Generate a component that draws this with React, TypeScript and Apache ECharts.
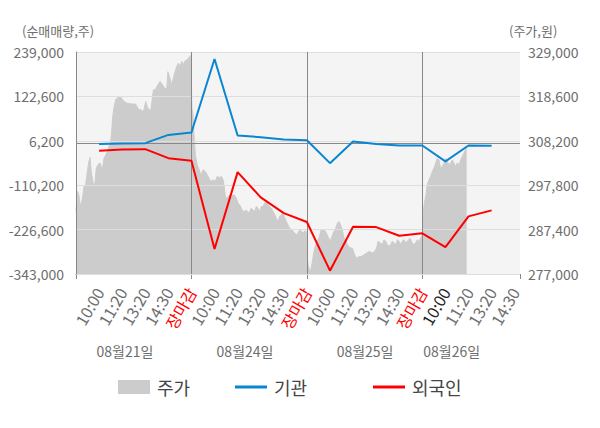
import React, { useEffect, useRef } from "react";
import * as echarts from "echarts";

// ---------- data ----------
const timeLabels = [
  "10:00", "11:20", "13:20", "14:30", "장마감",
  "10:00", "11:20", "13:20", "14:30", "장마감",
  "10:00", "11:20", "13:20", "14:30", "장마감",
  "10:00", "11:20", "13:20", "14:30",
];
const closeLabel = "장마감";
const currentLabelIndex = 15;

const dateLabels = ["08월21일", "08월24일", "08월25일", "08월26일"];
const datePositions = [2.12, 7.32, 12.52, 16.27];

const leftAxisName = "(순매매량,주)";
const rightAxisName = "(주가,원)";
const leftTicks = [-343000, -226600, -110200, 6200, 122600, 239000];
const rightTicks = [277000, 287400, 297800, 308200, 318600, 329000];

const flowPositions = [1, 2, 3, 4, 5, 6, 7, 8, 9, 10, 11, 12, 13, 14, 15, 16, 17, 18];
const instValues = [
  -2000, -1000, 0, 21700, 28000, 220700, 20100, 15700, 9700, 7800,
  -52400, 4400, -1900, -6000, -6000, -47900, -6000, -7000,
];
const foreignValues = [
  -20200, -16500, -15700, -39300, -46400, -277500, -75900, -142200, -183300, -206800,
  -334300, -219200, -220000, -242700, -236400, -272300, -191900, -176200,
];

const dayBoundaries = [5, 10, 15];
const xMax = 19.23;

const priceDay1: [number, number][] = [
  [0, 291700], [0.06, 296400], [0.12, 295600], [0.17, 293600], [0.23, 293200],
  [0.3, 295600], [0.35, 297500], [0.42, 297900], [0.49, 301000], [0.56, 303400],
  [0.61, 304300], [0.66, 301000], [0.74, 298300], [0.81, 297900], [0.88, 301800],
  [0.95, 302600], [1.04, 303000], [1.14, 301400], [1.21, 304100], [1.29, 304900],
  [1.36, 305700], [1.43, 306900], [1.5, 307600], [1.55, 310800], [1.59, 313900],
  [1.65, 316200], [1.72, 317800], [1.79, 318200], [1.86, 318600], [1.96, 318300],
  [2.08, 317400], [2.22, 317000], [2.44, 316800], [2.58, 316800], [2.65, 316200],
  [2.73, 315400], [2.8, 315600], [2.87, 315100], [2.94, 315400], [3.02, 317400],
  [3.09, 316200], [3.16, 315400], [3.24, 315400], [3.3, 317800], [3.35, 320100],
  [3.45, 320300], [3.55, 321300], [3.64, 322100], [3.74, 321400], [3.84, 320500],
  [3.93, 320300], [3.98, 324400], [4.07, 322800], [4.14, 321300], [4.2, 322500],
  [4.27, 324000], [4.36, 325600], [4.43, 326400], [4.5, 325600], [4.58, 326800],
  [4.65, 326000], [4.72, 326900], [4.79, 327100], [4.86, 327500], [4.92, 327900],
  [4.97, 328200],
];
const priceDay2: [number, number][] = [
  [5.0, 321300], [5.02, 315800], [5.07, 314300], [5.11, 309600], [5.17, 304900],
  [5.25, 302600], [5.36, 301000], [5.43, 300200], [5.5, 301400], [5.6, 301000],
  [5.69, 300200], [5.79, 299100], [5.86, 298700], [5.93, 299100], [6.03, 298700],
  [6.12, 299900], [6.22, 299500], [6.29, 299900], [6.37, 299100], [6.41, 297900],
  [6.47, 295200], [6.55, 294800], [6.66, 295600], [6.73, 295200], [6.84, 295600],
  [6.94, 294800], [7.02, 293600], [7.09, 293200], [7.16, 292400], [7.23, 291700],
  [7.31, 291700], [7.38, 292000], [7.45, 291300], [7.52, 291700], [7.59, 292400],
  [7.67, 292000], [7.74, 291700], [7.81, 292800], [7.88, 292400], [7.96, 291700],
  [8.03, 292800], [8.1, 292800], [8.17, 293600], [8.24, 294000], [8.32, 293200],
  [8.39, 292800], [8.46, 292400], [8.53, 291700], [8.61, 290900], [8.67, 290100],
  [8.75, 289300], [8.82, 290500], [8.89, 290900], [8.97, 291300], [9.04, 290100],
  [9.11, 289300], [9.18, 288500], [9.25, 287800], [9.33, 287400], [9.4, 287000],
  [9.47, 286600], [9.54, 286200], [9.61, 286600], [9.69, 287400], [9.76, 287000],
  [9.83, 286600], [9.9, 287100], [9.97, 287000],
];
const priceDay3: [number, number][] = [
  [10.02, 280700], [10.05, 279200], [10.09, 278400], [10.16, 277600], [10.24, 280000],
  [10.31, 282300], [10.38, 283900], [10.52, 285400], [10.62, 287400], [10.71, 287400],
  [10.81, 287000], [10.91, 285800], [11.0, 284700], [11.06, 285400], [11.14, 286600],
  [11.25, 287800], [11.32, 288900], [11.39, 289300], [11.46, 288500], [11.53, 287400],
  [11.61, 285400], [11.68, 285000], [11.75, 283900], [11.87, 283100], [11.97, 283100],
  [12.07, 281500], [12.16, 280700], [12.26, 281100], [12.36, 281100], [12.47, 281500],
  [12.59, 281900], [12.69, 282300], [12.83, 281900], [12.94, 282300], [13.02, 283100],
  [13.08, 284700], [13.17, 284300], [13.27, 283900], [13.34, 285000], [13.41, 284700],
  [13.48, 283900], [13.56, 283500], [13.63, 283900], [13.7, 284700], [13.77, 284300],
  [13.85, 283900], [13.92, 285000], [13.99, 284700], [14.06, 283900], [14.13, 284700],
  [14.21, 285000], [14.28, 284300], [14.35, 284700], [14.47, 285400], [14.56, 284300],
  [14.64, 283900], [14.71, 284300], [14.78, 285000], [14.85, 284700], [14.93, 285400],
  [15.0, 286200],
];
const priceDay4: [number, number][] = [
  [15.04, 291700], [15.1, 294000], [15.16, 295600], [15.21, 297900], [15.29, 299100],
  [15.36, 299900], [15.43, 301000], [15.5, 301800], [15.58, 303000], [15.65, 304100],
  [15.72, 303700], [15.79, 301800], [15.86, 302200], [15.94, 303000], [16.01, 304100],
  [16.08, 303400], [16.15, 302600], [16.23, 303000], [16.3, 303700], [16.37, 303000],
  [16.44, 302200], [16.51, 303000], [16.59, 302600], [16.66, 303700], [16.73, 304500],
  [16.8, 305300], [16.87, 306100], [16.92, 306500],
];

// ---------- style ----------
const FONT = "Noto Sans CJK KR";
const BLUE = "#0a85d1";
const RED = "#ff0000";
const AREA = "#cccccc";
const AXIS = "#888888";
const LABEL = "#6e6e6e";

const fmt = (v: number) => {
  const s = Math.abs(Math.round(v)).toString().replace(/\B(?=(\d{3})+(?!\d))/g, ",");
  return (v < 0 ? "-" : "") + s;
};

export default function App() {
  const ref = useRef<HTMLDivElement>(null);

  useEffect(() => {
    if (!ref.current) return;
    const chart = echarts.init(ref.current, undefined, { renderer: "svg" });

    const priceData = [...priceDay1, ...priceDay2, ...priceDay3, ...priceDay4];
    const instData = flowPositions.map((p, i) => [p, instValues[i]]);
    const foreignData = flowPositions.map((p, i) => [p, foreignValues[i]]);

    const legendText = { fontFamily: FONT, fontSize: 18, color: "#444", padding: [0, 0, 0, 2] };

    const option: any = {
      animation: false,
      textStyle: { fontFamily: FONT },
      grid: {
        left: 76,
        right: 80,
        top: 52,
        bottom: 154,
        show: true,
        backgroundColor: "#f4f4f4",
        borderWidth: 0,
        containLabel: false,
        outerBoundsMode: "none",
      },
      graphic: [
        {
          type: "text",
          left: 22,
          top: 24,
          style: { text: leftAxisName, fill: LABEL, fontSize: 13, fontFamily: FONT },
          silent: true,
        },
        {
          type: "text",
          left: 509,
          top: 24,
          style: { text: rightAxisName, fill: LABEL, fontSize: 13, fontFamily: FONT },
          silent: true,
        },
      ],
      legend: [
        {
          data: ["주가"],
          left: 113,
          top: 373,
          icon: "rect",
          itemWidth: 32,
          itemHeight: 14,
          textStyle: legendText,
          selectedMode: false,
        },
        {
          data: ["기관"],
          left: 230,
          top: 373,
          icon: "rect",
          itemWidth: 32,
          itemHeight: 3,
          textStyle: legendText,
          selectedMode: false,
        },
        {
          data: ["외국인"],
          left: 368,
          top: 373,
          icon: "rect",
          itemWidth: 32,
          itemHeight: 3,
          textStyle: legendText,
          selectedMode: false,
        },
      ],
      xAxis: [
        {
          type: "value",
          min: 0,
          max: xMax,
          interval: 1,
          position: "bottom",
          axisLine: { show: false },
          axisTick: { show: false },
          splitLine: { show: false },
          axisLabel: {
            rotate: 60,
            margin: 15,
            fontSize: 16,
            fontFamily: FONT,
            color: LABEL,
            showMinLabel: true,
            showMaxLabel: true,
            formatter: (v: number) => {
              const r = Math.round(v);
              if (Math.abs(v - r) > 1e-6) return "";
              const i = r - 1;
              if (i < 0 || i >= timeLabels.length) return "";
              const t = timeLabels[i];
              if (t === closeLabel) return `{r|${t}}`;
              if (i === currentLabelIndex) return `{d|${t}}`;
              return `{n|${t}}`;
            },
            rich: {
              r: { color: RED, fontSize: 16, fontFamily: FONT },
              d: { color: "#222222", fontSize: 16, fontFamily: FONT },
              n: { color: LABEL, fontSize: 16, fontFamily: FONT },
            },
          },
        },
        {
          type: "value",
          min: 0,
          max: xMax,
          interval: 5,
          position: "bottom",
          axisLine: { show: true, lineStyle: { color: AXIS, width: 1 } },
          axisTick: { show: true, length: 5, lineStyle: { color: AXIS } },
          axisLabel: { show: false },
          splitLine: { show: false },
        },
        {
          type: "value",
          min: 0,
          max: xMax,
          position: "bottom",
          offset: 62,
          axisLine: { show: false },
          axisTick: { show: false, customValues: datePositions },
          splitLine: { show: false },
          axisLabel: {
            customValues: datePositions,
            margin: 8,
            fontSize: 14,
            fontFamily: FONT,
            color: LABEL,
            formatter: (v: number) => {
              let best = 0;
              datePositions.forEach((p, i) => {
                if (Math.abs(p - v) < Math.abs(datePositions[best] - v)) best = i;
              });
              return dateLabels[best];
            },
          },
        },
      ],
      yAxis: [
        {
          type: "value",
          position: "left",
          min: leftTicks[0],
          max: leftTicks[leftTicks.length - 1],
          z: 3,
          axisLine: { show: true, lineStyle: { color: AXIS, width: 1 } },
          axisTick: { show: false, customValues: leftTicks },
          axisLabel: {
            customValues: leftTicks,
            margin: 12,
            fontSize: 14,
            fontFamily: FONT,
            color: LABEL,
            formatter: (v: number) => fmt(v),
          },
          splitLine: { show: true, lineStyle: { color: "#dedede", width: 1 } },
        },
        {
          type: "value",
          position: "right",
          min: rightTicks[0],
          max: rightTicks[rightTicks.length - 1],
          axisLine: { show: false },
          axisTick: { show: false, customValues: rightTicks },
          axisLabel: {
            customValues: rightTicks,
            margin: 8,
            fontSize: 14,
            fontFamily: FONT,
            color: LABEL,
            formatter: (v: number) => fmt(v),
          },
          splitLine: { show: false },
        },
      ],
      series: [
        {
          name: "주가",
          type: "line",
          xAxisIndex: 0,
          yAxisIndex: 1,
          data: priceData,
          showSymbol: false,
          symbol: "none",
          silent: true,
          z: 1,
          itemStyle: { color: AREA },
          lineStyle: { color: AREA, width: 1 },
          areaStyle: { color: AREA, opacity: 1, origin: "start" },
          markLine: {
            silent: true,
            symbol: ["none", "none"],
            label: { show: false },
            lineStyle: { color: AXIS, width: 1, type: "solid" },
            data: dayBoundaries.map((b) => ({ xAxis: b })),
          },
        },
        {
          name: "기관",
          type: "line",
          xAxisIndex: 0,
          yAxisIndex: 0,
          data: instData,
          showSymbol: false,
          symbol: "none",
          silent: true,
          z: 5,
          itemStyle: { color: BLUE },
          lineStyle: { color: BLUE, width: 2 },
          markLine: {
            silent: true,
            symbol: ["none", "none"],
            label: { show: false },
            lineStyle: { color: AXIS, width: 1, type: "solid" },
            data: [{ yAxis: 0 }],
          },
        },
        {
          name: "외국인",
          type: "line",
          xAxisIndex: 0,
          yAxisIndex: 0,
          data: foreignData,
          showSymbol: false,
          symbol: "none",
          silent: true,
          z: 6,
          itemStyle: { color: RED },
          lineStyle: { color: RED, width: 2 },
        },
      ],
    };

    chart.setOption(option);
    return () => chart.dispose();
  }, []);

  return (
    <div
      ref={ref}
      style={{ position: "fixed", left: 0, top: 0, width: 600, height: 428, background: "#fff" }}
    />
  );
}
